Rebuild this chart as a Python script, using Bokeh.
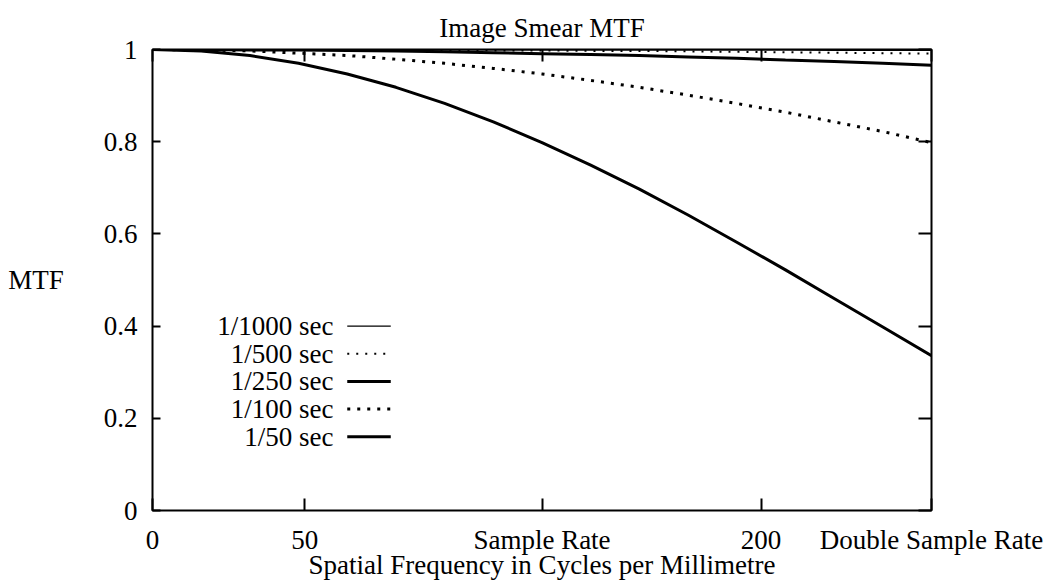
from bokeh.plotting import figure
from bokeh.models import LinearAxis, FixedTicker, Range1d
from bokeh.core.properties import value
from bokeh.embed import file_html
from bokeh.resources import INLINE

# ---- data ----
freq = [0, 16, 32, 48, 64, 80, 96, 112, 128, 144, 160, 176, 192, 208, 224, 240, 256]
mtf_1000 = [1.0, 1.0, 1.0, 1.0, 1.0, 1.0, 1.0, 0.999, 0.999, 0.999, 0.999, 0.999, 0.999, 0.999, 0.998, 0.998, 0.998]
mtf_500 = [1.0, 1.0, 1.0, 1.0, 0.999, 0.999, 0.999, 0.998, 0.998, 0.997, 0.997, 0.996, 0.995, 0.994, 0.993, 0.992, 0.991]
mtf_250 = [1.0, 1.0, 0.999, 0.999, 0.998, 0.997, 0.995, 0.993, 0.991, 0.989, 0.987, 0.984, 0.981, 0.977, 0.974, 0.970, 0.966]
mtf_100 = [1.0, 0.999, 0.997, 0.992, 0.987, 0.979, 0.970, 0.959, 0.947, 0.933, 0.918, 0.901, 0.883, 0.864, 0.843, 0.822, 0.798]
mtf_50 = [1.0, 0.997, 0.987, 0.970, 0.947, 0.918, 0.883, 0.843, 0.798, 0.749, 0.697, 0.641, 0.582, 0.522, 0.460, 0.398, 0.336]

series_labels = ["1/1000 sec", "1/500 sec", "1/250 sec", "1/100 sec", "1/50 sec"]
series_values = [mtf_1000, mtf_500, mtf_250, mtf_100, mtf_50]

x_tick_values = [0, 50, 128, 200, 256]
x_tick_labels = ["0", "50", "Sample Rate", "200", "Double Sample Rate"]
y_tick_values = [0, 0.2, 0.4, 0.6, 0.8, 1]
y_tick_labels = ["0", "0.2", "0.4", "0.6", "0.8", "1"]

title_text = "Image Smear MTF"
x_label_text = "Spatial Frequency in Cycles per Millimetre"
y_label_text = "MTF"

# ---- styles ----
FONT = "Liberation Serif"
FS = "27px"
styles = [
    dict(line_width=1.3),
    dict(line_width=2, line_dash="2 7"),
    dict(line_width=3),
    dict(line_width=3, line_dash="3 7"),
    dict(line_width=3),
]

W, H = 1053, 583
p = figure(width=W, height=H, x_range=Range1d(0, 256), y_range=Range1d(0, 1),
           output_backend="svg", toolbar_location=None, title=title_text,
           min_border_left=152, min_border_right=122, min_border_top=49, min_border_bottom=73)
p.outline_line_color = "black"
p.outline_line_width = 2
p.grid.visible = False
p.background_fill_color = "white"
p.border_fill_color = "white"

p.title.align = "center"
p.title.text_font = FONT
p.title.text_font_size = FS
p.title.text_font_style = "normal"
p.title.text_color = "black"
p.title.standoff = 14
p.title.offset = 0

for vals, st in zip(series_values, styles):
    p.line(freq, vals, line_color="black", line_cap="butt", **st)

# legend (label on the left, sample on the right)
leg_x_text = 59.5
leg_x0, leg_x1 = 64.0, 78.3
leg_y0, leg_dy = 0.40, 0.06
rows = [leg_y0 - i * leg_dy for i in range(len(series_labels))]
for yv, st in zip(rows, styles):
    p.line([leg_x0, leg_x1], [yv, yv], line_color="black", line_cap="butt", **st)
p.text(x=[leg_x_text] * len(rows), y=rows, text=series_labels,
       text_align="right", text_baseline="middle",
       text_font=value(FONT), text_font_size=FS, text_color="black")

def style_axis(ax, tick_in, standoff=10):
    ax.axis_line_color = None
    ax.major_tick_in = tick_in
    ax.major_tick_out = 0
    ax.major_tick_line_width = 2
    ax.major_tick_line_color = "black"
    ax.minor_tick_line_color = None
    ax.major_label_standoff = standoff
    ax.major_label_text_font = FONT
    ax.major_label_text_color = "black"
    ax.major_label_text_font_size = FS
    ax.axis_label_text_font = FONT
    ax.axis_label_text_font_size = FS
    ax.axis_label_text_font_style = "normal"
    ax.axis_label_text_color = "black"

xa = p.xaxis[0]
xa.ticker = FixedTicker(ticks=x_tick_values)
xa.major_label_overrides = dict(zip(x_tick_values, x_tick_labels))
style_axis(xa, 12, 14)
xa.axis_label = x_label_text
xa.axis_label_standoff = -8

ya = p.yaxis[0]
ya.ticker = FixedTicker(ticks=y_tick_values)
ya.major_label_overrides = dict(zip(y_tick_values, y_tick_labels))
style_axis(ya, 8, 15)
ya.axis_label = y_label_text
ya.axis_label_orientation = "horizontal"
ya.axis_label_standoff = 37

top = LinearAxis(ticker=FixedTicker(ticks=x_tick_values))
style_axis(top, 12, 0)
top.major_label_overrides = {v: "" for v in x_tick_values}
p.add_layout(top, "above")

right = LinearAxis(ticker=FixedTicker(ticks=y_tick_values))
style_axis(right, 13, 0)
right.major_label_overrides = {v: "" for v in y_tick_values}
p.add_layout(right, "right")

open("out.html", "w").write(file_html(p, INLINE))
